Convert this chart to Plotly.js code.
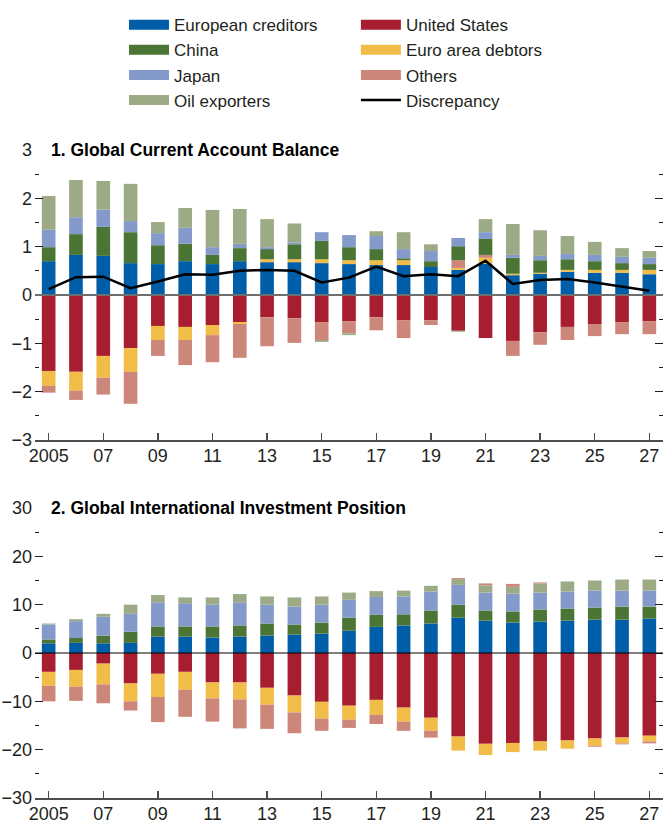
<!DOCTYPE html>
<html>
<head>
<meta charset="utf-8">
<script src="https://cdn.plot.ly/plotly-3.0.1.min.js"></script>
<style>
  html, body { margin: 0; padding: 0; background: #fff; }
  #chart { width: 663px; height: 825px; }
</style>
</head>
<body>
<div id="chart"></div>
<script>
const YEARS = [2005, 2006, 2007, 2008, 2009, 2010, 2011, 2012, 2013, 2014, 2015, 2016,
    2017, 2018, 2019, 2020, 2021, 2022, 2023, 2024, 2025, 2026, 2027];
const TICK_YEARS = [2005, 2007, 2009, 2011, 2013, 2015, 2017, 2019, 2021, 2023, 2025, 2027];
const TICK_TEXT = ["2005", "07", "09", "11", "13", "15", "17", "19", "21", "23", "25", "27"];

// Panel 1: current account balance (percent of world GDP)
const CA_EUR_CRED = [0.70, 0.83, 0.81, 0.66, 0.64, 0.70, 0.64, 0.70, 0.68, 0.68, 0.66, 0.64,
    0.62, 0.62, 0.58, 0.52, 0.65, 0.41, 0.44, 0.48, 0.46, 0.46, 0.43];
const CA_CHINA = [0.29, 0.43, 0.60, 0.64, 0.39, 0.36, 0.19, 0.27, 0.21, 0.31, 0.38, 0.27,
    0.23, 0.04, 0.12, 0.29, 0.33, 0.33, 0.26, 0.22, 0.18, 0.14, 0.12];
const CA_JAPAN = [0.36, 0.35, 0.36, 0.23, 0.25, 0.33, 0.16, 0.09, 0.04, 0.04, 0.18, 0.25,
    0.27, 0.19, 0.21, 0.17, 0.14, 0.06, 0.09, 0.11, 0.13, 0.13, 0.13];
const CA_OIL = [0.70, 0.77, 0.59, 0.77, 0.23, 0.41, 0.77, 0.72, 0.58, 0.39, -0.04, -0.04,
    0.10, 0.35, 0.14, -0.02, 0.27, 0.64, 0.53, 0.37, 0.27, 0.18, 0.14];
const CA_US = [-1.57, -1.59, -1.26, -1.10, -0.64, -0.66, -0.62, -0.56, -0.46, -0.48, -0.56, -0.54,
    -0.46, -0.52, -0.52, -0.74, -0.89, -0.95, -0.77, -0.66, -0.60, -0.56, -0.54];
const CA_EA_DEBT = [-0.31, -0.39, -0.45, -0.49, -0.29, -0.27, -0.21, -0.04, 0.06, 0.06, 0.08, 0.08,
    0.10, 0.10, 0.00, 0.04, 0.12, 0.03, 0.02, 0.04, 0.06, 0.06, 0.09];
const CA_OTHERS = [-0.14, -0.19, -0.35, -0.66, -0.33, -0.52, -0.56, -0.70, -0.60, -0.51, -0.37, -0.25,
    -0.27, -0.37, -0.10, 0.16, 0.06, -0.31, -0.26, -0.27, -0.25, -0.25, -0.27];
const CA_DISCREPANCY = [0.12, 0.37, 0.38, 0.14, 0.28, 0.43, 0.42, 0.50, 0.52, 0.50, 0.26, 0.36,
    0.59, 0.39, 0.43, 0.39, 0.71, 0.23, 0.31, 0.33, 0.26, 0.17, 0.09];

// Panel 2: international investment position (percent of world GDP)
const IIP_EUR_CRED = [2.0, 2.1, 2.0, 2.1, 3.4, 3.4, 3.2, 3.4, 3.6, 3.8, 4.0, 4.6,
    5.4, 5.7, 6.1, 7.3, 6.7, 6.3, 6.5, 6.7, 6.9, 6.9, 7.1];
const IIP_CHINA = [0.8, 1.0, 1.6, 2.3, 2.1, 2.1, 2.3, 2.3, 2.5, 2.1, 2.3, 2.7,
    2.5, 2.3, 2.7, 2.7, 2.1, 2.3, 2.5, 2.5, 2.5, 2.7, 2.5];
const IIP_JAPAN = [3.1, 3.5, 3.9, 3.7, 5.0, 4.8, 4.5, 4.8, 3.9, 3.7, 3.7, 3.7,
    3.7, 3.7, 3.9, 4.1, 3.7, 3.7, 3.5, 3.5, 3.5, 3.3, 3.3];
const IIP_OIL = [0.2, 0.4, 0.6, 1.9, 1.5, 1.2, 1.5, 1.7, 1.7, 1.9, 1.7, 1.5,
    1.2, 1.2, 1.2, 1.2, 1.5, 1.4, 1.9, 2.1, 2.1, 2.3, 2.3];
const IIP_US = [-3.9, -3.5, -2.2, -6.3, -4.3, -3.9, -6.1, -6.1, -7.2, -8.8, -10.1, -10.9,
    -9.7, -11.3, -13.4, -17.3, -18.8, -18.6, -18.3, -18.1, -17.7, -17.5, -17.1];
const IIP_EA_DEBT = [-2.9, -3.5, -4.3, -3.7, -4.8, -3.7, -3.3, -3.5, -3.5, -3.5, -3.5, -2.9,
    -3.1, -2.9, -2.7, -2.9, -2.3, -1.9, -1.9, -1.7, -1.5, -1.2, -1.2];
const IIP_OTHERS = [-3.2, -2.9, -3.9, -1.9, -5.2, -5.6, -4.8, -6.0, -5.0, -4.3, -2.5, -1.7,
    -1.9, -1.9, -1.4, 0.2, 0.4, 0.6, 0.2, 0.0, -0.2, -0.2, -0.4];

const COLORS = {
    eurCred: "#005ea8",
    china: "#4a7535",
    japan: "#849acb",
    oil: "#9cab86",
    us: "#a71e30",
    eaDebt: "#f2bc48",
    others: "#cd877a",
    disc: "#000000",
};

const FONT = "'Liberation Sans', Arial, sans-serif";

function bars(name, values, color, xa, ya, group) {
    return {
        type: "bar", x: YEARS, y: values, name,
        xaxis: xa, yaxis: ya,
        marker: { color, line: { width: 0 } },
        width: 0.5,
        legendgroup: group,
        showlegend: false,
        hoverinfo: "skip",
    };
}

function legendEntry(name, color, legend, width) {
    return {
        type: "scatter", mode: "lines", x: [null], y: [null], name,
        legend, legendgroup: name,
        line: { color, width },
        hoverinfo: "skip",
    };
}

const traces = [
    // panel 1 (order sets the stacking)
    bars("European creditors", CA_EUR_CRED, COLORS.eurCred, "x", "y", "European creditors"),
    bars("United States", CA_US, COLORS.us, "x", "y", "United States"),
    bars("Euro area debtors", CA_EA_DEBT, COLORS.eaDebt, "x", "y", "Euro area debtors"),
    bars("Others", CA_OTHERS, COLORS.others, "x", "y", "Others"),
    bars("China", CA_CHINA, COLORS.china, "x", "y", "China"),
    bars("Japan", CA_JAPAN, COLORS.japan, "x", "y", "Japan"),
    bars("Oil exporters", CA_OIL, COLORS.oil, "x", "y", "Oil exporters"),
    {
        type: "scatter", mode: "lines", x: YEARS, y: CA_DISCREPANCY,
        name: "Discrepancy", legendgroup: "Discrepancy", showlegend: false,
        line: { color: COLORS.disc, width: 2.5 },
        hoverinfo: "skip",
    },
    // panel 2
    bars("European creditors", IIP_EUR_CRED, COLORS.eurCred, "x2", "y2", "European creditors"),
    bars("United States", IIP_US, COLORS.us, "x2", "y2", "United States"),
    bars("Euro area debtors", IIP_EA_DEBT, COLORS.eaDebt, "x2", "y2", "Euro area debtors"),
    bars("China", IIP_CHINA, COLORS.china, "x2", "y2", "China"),
    bars("Japan", IIP_JAPAN, COLORS.japan, "x2", "y2", "Japan"),
    bars("Oil exporters", IIP_OIL, COLORS.oil, "x2", "y2", "Oil exporters"),
    bars("Others", IIP_OTHERS, COLORS.others, "x2", "y2", "Others"),
    // legend only
    legendEntry("European creditors", COLORS.eurCred, "legend", 10),
    legendEntry("China", COLORS.china, "legend", 10),
    legendEntry("Japan", COLORS.japan, "legend", 10),
    legendEntry("Oil exporters", COLORS.oil, "legend", 10),
    legendEntry("United States", COLORS.us, "legend2", 10),
    legendEntry("Euro area debtors", COLORS.eaDebt, "legend2", 10),
    legendEntry("Others", COLORS.others, "legend2", 10),
    legendEntry("Discrepancy", COLORS.disc, "legend2", 2.5),
];

const xaxisBase = {
    range: [2004.5, 2027.5],
    tickmode: "array", tickvals: TICK_YEARS, ticktext: TICK_TEXT,
    ticks: "inside", ticklen: 7, tickwidth: 1.5, tickcolor: "#4d4d4d",
    ticklabelstandoff: -2,
    showline: true, linecolor: "#4d4d4d", linewidth: 2,
    showgrid: false, zeroline: false, fixedrange: true,
    tickfont: { family: FONT, size: 18, color: "#231f20" },
};

const yaxisBase = {
    ticks: "inside", ticklen: 8, tickwidth: 1, tickcolor: "#231f20",
    ticklabelstandoff: 2,
    mirror: "ticks",
    showline: false, showgrid: false, zeroline: false, fixedrange: true,
    tickfont: { family: FONT, size: 18, color: "#231f20" },
};

const legendBase = {
    orientation: "v",
    xanchor: "left", yanchor: "top",
    itemwidth: 40,
    tracegroupgap: 0,
    bgcolor: "rgba(0,0,0,0)",
    font: { family: FONT, size: 17, color: "#231f20" },
    itemclick: false, itemdoubleclick: false,
};

const layout = {
    width: 663, height: 825,
    margin: { l: 35, r: 0, t: 0, b: 27 },
    paper_bgcolor: "#fff", plot_bgcolor: "#fff",
    barmode: "relative",
    bargap: 0.5,
    font: { family: FONT, size: 18, color: "#231f20" },
    xaxis: { ...xaxisBase, anchor: "y" },
    xaxis2: { ...xaxisBase, anchor: "y2", matches: "x" },
    yaxis: {
        ...yaxisBase, domain: [0.4486, 0.8120], anchor: "x",
        range: [-3, 3], tickvals: [-3, -2, -1, 0, 1, 2, 3],
        minor: { tickvals: [-2.5, -1.5, -0.5, 0.5, 1.5, 2.5], ticks: "inside", ticklen: 4, tickcolor: "#231f20", showgrid: false },
    },
    yaxis2: {
        ...yaxisBase, domain: [0, 0.3634], anchor: "x2",
        range: [-30, 30], tickvals: [-30, -20, -10, 0, 10, 20, 30],
        minor: { tickvals: [-25, -15, -5, 5, 15, 25], ticks: "inside", ticklen: 4, tickcolor: "#231f20", showgrid: false },
    },
    shapes: [
        { type: "line", xref: "paper", x0: 0, x1: 1, yref: "y", y0: 0, y1: 0,
          line: { color: "#6d6e70", width: 2 }, layer: "above" },
        { type: "line", xref: "paper", x0: 0, x1: 1, yref: "y2", y0: 0, y1: 0,
          line: { color: "#000", width: 1 }, layer: "above" },
    ],
    annotations: [
        { text: "<b>1. Global Current Account Balance</b>", xref: "paper", x: 0.0223,
          yref: "y domain", y: 1, xanchor: "left", yanchor: "middle", showarrow: false,
          font: { family: FONT, size: 17.5, color: "#000" } },
        { text: "<b>2. Global International Investment Position</b>", xref: "paper", x: 0.0223,
          yref: "y2 domain", y: 1, xanchor: "left", yanchor: "middle", showarrow: false,
          font: { family: FONT, size: 17.5, color: "#000" } },
    ],
    legend: { ...legendBase, x: 0.1417, y: 0.991 },
    legend2: { ...legendBase, x: 0.511, y: 0.991 },
};

Plotly.newPlot("chart", traces, layout, { displayModeBar: false, staticPlot: true });
</script>
</body>
</html>
